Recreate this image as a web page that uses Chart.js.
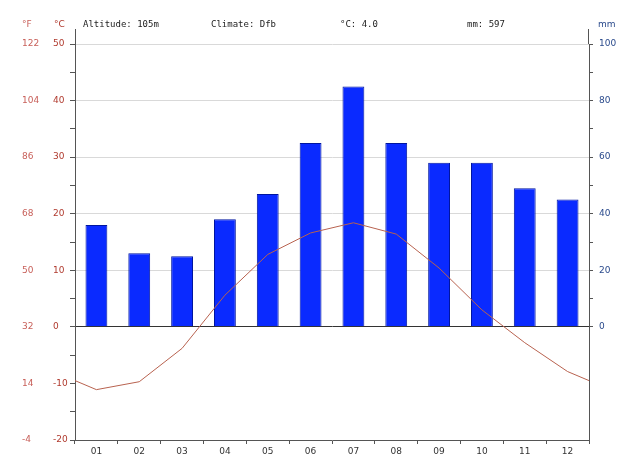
<!DOCTYPE html>
<html>
<head>
<meta charset="utf-8">
<script src="https://cdn.jsdelivr.net/npm/chart.js@4/dist/chart.umd.min.js"></script>
<style>
  body { margin: 0; background: #fff; }
</style>
</head>
<body>
<canvas id="climateChart" width="640" height="476"></canvas>
<script>
let months = ['01', '02', '03', '04', '05', '06', '07', '08', '09', '10', '11', '12'];
let precipitation = [36, 26, 25, 38, 47, 65, 85, 65, 58, 58, 49, 45];
let temperature = [-11.1, -9.7, -3.8, 5.6, 12.8, 16.6, 18.4, 16.4, 10.4, 3.0, -2.8, -7.9];
let edgeTemperature = -9.5; // value of the line at both plot edges

let celsiusTicks = [-20, -10, 0, 10, 20, 30, 40, 50];
let fahrenheitTicks = [-4, 14, 32, 50, 68, 86, 104, 122];
let mmTicks = [0, 20, 40, 60, 80, 100];

let headerTexts = ['Altitude: 105m', 'Climate: Dfb', '°C: 4.0', 'mm: 597'];

// Line points on a linear axis so the curve can reach the plot edges
let linePoints = [{ x: 0.5, y: edgeTemperature }];
temperature.forEach((t, i) => linePoints.push({ x: i + 1, y: t }));
linePoints.push({ x: 12.5, y: edgeTemperature });

// Header texts and axis captions
const headerPlugin = {
    id: 'header',
    afterDraw(chart) {
        let ctx = chart.ctx;
        let area = chart.chartArea;
        ctx.save();

        // axis lines run a little above the plot
        ctx.strokeStyle = '#555';
        ctx.lineWidth = 1;
        ctx.beginPath();
        ctx.moveTo(area.left + 0.5, 29);
        ctx.lineTo(area.left + 0.5, area.top);
        ctx.moveTo(area.right - 0.5, 29);
        ctx.lineTo(area.right - 0.5, area.top);
        ctx.stroke();

        ctx.textBaseline = 'middle';
        ctx.font = '9px "DejaVu Sans"';
        ctx.fillStyle = '#c8605a';
        ctx.fillText('°F', 22, 25);
        ctx.fillStyle = '#b03a2e';
        ctx.fillText('°C', 54, 25);
        ctx.fillStyle = '#2a4a8c';
        ctx.fillText('mm', 598, 25);

        ctx.font = '9px "DejaVu Sans Mono"';
        ctx.fillStyle = '#222';
        let xs = [83, 211, 340, 467];
        headerTexts.forEach((t, i) => ctx.fillText(t, xs[i], 25));
        ctx.restore();
    }
};

let ctx = document.getElementById('climateChart').getContext('2d');
new Chart(ctx, {
    type: 'line',
    data: {
        labels: months,
        datasets: [
            {
                type: 'line',
                label: 'Temperature',
                data: linePoints,
                xAxisID: 'x2',
                yAxisID: 'yC',
                borderColor: '#b8624f',
                borderWidth: 1,
                pointRadius: 0,
                tension: 0,
                order: 0
            },
            {
                type: 'bar',
                label: 'Precipitation',
                data: precipitation,
                xAxisID: 'x',
                yAxisID: 'yMm',
                backgroundColor: '#0a2aff',
                borderColor: '#0016a0',
                borderWidth: 1,
                grouped: false,
                barPercentage: 0.51,
                categoryPercentage: 1,
                order: 1
            }
        ]
    },
    options: {
        responsive: false,
        animation: false,
        layout: { padding: { left: 22, top: 44, right: 0, bottom: 0 } },
        plugins: {
            legend: { display: false },
            tooltip: { enabled: false }
        },
        scales: {
            x: {
                type: 'category',
                offset: true,
                grid: {
                    offset: true,
                    drawOnChartArea: false,
                    tickLength: 4,
                    tickColor: '#555'
                },
                border: { color: '#555' },
                ticks: {
                    padding: 2,
                    color: '#333',
                    font: { family: 'DejaVu Sans', size: 9 }
                },
                afterFit(scale) { scale.height = 36; }
            },
            x2: {
                type: 'linear',
                display: false,
                offset: false,
                min: 0.5,
                max: 12.5
            },
            yC: {
                type: 'linear',
                position: 'left',
                weight: 0,
                min: -20,
                max: 50,
                grid: {
                    color: (c) => {
                        let v = c.tick.value;
                        if (v === 0) return '#333';
                        if (v > 0 && v % 10 === 0) return '#d9d9d9';
                        return 'rgba(0,0,0,0)';
                    },
                    tickColor: '#555',
                    tickLength: 5
                },
                border: { color: '#555' },
                ticks: {
                    stepSize: 5,
                    autoSkip: false,
                    crossAlign: 'far',
                    padding: 4,
                    color: '#b03a2e',
                    font: { family: 'DejaVu Sans', size: 9 },
                    callback: (value) => celsiusTicks.includes(value) ? value : ''
                },
                afterFit(scale) { scale.width = 22; }
            },
            yF: {
                type: 'linear',
                position: 'left',
                weight: 1,
                min: -20,
                max: 50,
                grid: { display: false },
                border: { display: false },
                ticks: {
                    stepSize: 10,
                    autoSkip: false,
                    crossAlign: 'far',
                    color: '#c8605a',
                    font: { family: 'DejaVu Sans', size: 9 },
                    callback: (value) => fahrenheitTicks[celsiusTicks.indexOf(value)]
                },
                afterFit(scale) { scale.width = 31; }
            },
            yMm: {
                type: 'linear',
                position: 'right',
                min: -40,
                max: 100,
                grid: {
                    drawOnChartArea: false,
                    tickColor: (c) => c.tick.value < 0 ? 'rgba(0,0,0,0)' : '#555',
                    tickLength: 4
                },
                border: { color: '#555' },
                ticks: {
                    stepSize: 10,
                    autoSkip: false,
                    padding: 6,
                    color: '#2a4a8c',
                    font: { family: 'DejaVu Sans', size: 9 },
                    callback: (value) => mmTicks.includes(value) ? value : ''
                },
                afterFit(scale) { scale.width = 51; }
            }
        }
    },
    plugins: [headerPlugin]
});
</script>
</body>
</html>
